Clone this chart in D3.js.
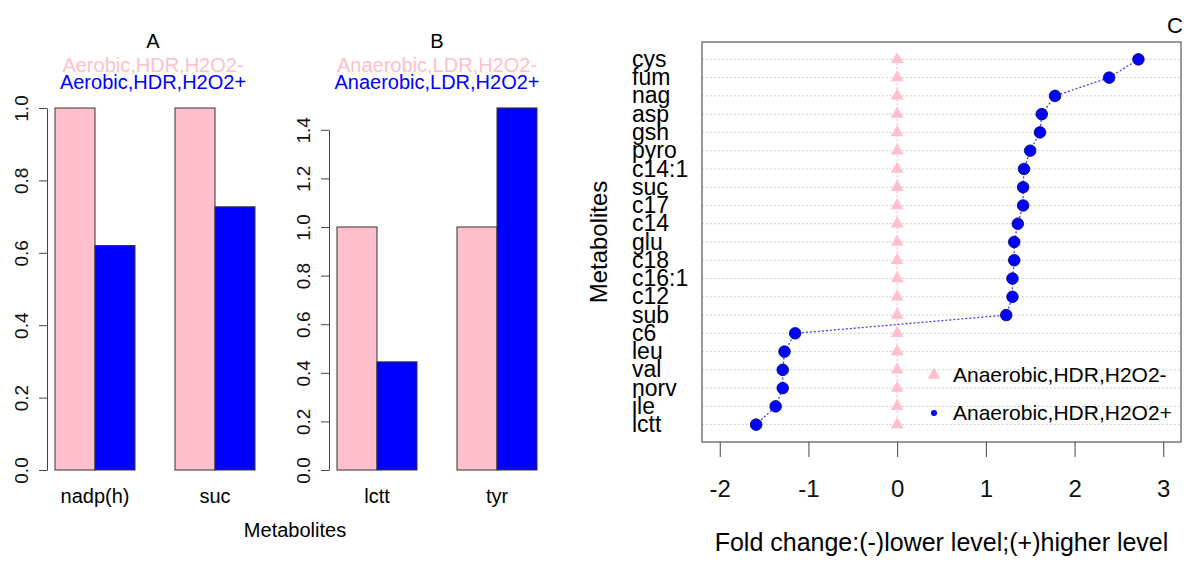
<!DOCTYPE html>
<html>
<head>
<meta charset="utf-8">
<script src="https://cdn.jsdelivr.net/npm/d3@7"></script>
<style>
  body { margin: 0; background: #fff; }
  text { font-family: "Liberation Sans", Arial, sans-serif; }
</style>
</head>
<body>
<div id="chart"></div>
<script>
// panel A / B data
const catsA = ["nadp(h)", "suc"];
const minusA = [1, 1];
const plusA = [0.62, 0.727];
const ticksA = [0, 0.2, 0.4, 0.6, 0.8, 1.0];

const catsB = ["lctt", "tyr"];
const minusB = [1, 1];
const plusB = [0.445, 1.49];
const ticksB = [0, 0.2, 0.4, 0.6, 0.8, 1.0, 1.2, 1.4];

// panel C data (top to bottom)
const metabolites = ["cys", "fum", "nag", "asp", "gsh", "pyro", "c14:1", "suc", "c17", "c14",
  "glu", "c18", "c16:1", "c12", "sub", "c6", "leu", "val", "norv", "ile", "lctt"];
const foldMinus = [0, 0, 0, 0, 0, 0, 0, 0, 0, 0, 0, 0, 0, 0, 0, 0, 0, 0, 0, 0, 0];
const foldPlus = [2.72, 2.39, 1.78, 1.63, 1.61, 1.50, 1.43, 1.42, 1.42, 1.36,
  1.32, 1.32, 1.30, 1.30, 1.23, -1.15, -1.27, -1.29, -1.29, -1.37, -1.59];
const ticksC = [-2, -1, 0, 1, 2, 3];

const pink = "#FFC0CB", blue = "#0000FF";

const svg = d3.select("#chart")
  .append("svg")
    .attr("width", 1185)
    .attr("height", 561);

svg.append("rect").attr("width", 1185).attr("height", 561).attr("fill", "#fff");

// bar panel (A and B)
function barPanel(o) {
  const x0 = d3.scaleBand()
    .domain(o.cats)
    .range(o.barRange)
    .paddingInner(1 / 3);
  const x1 = d3.scaleBand()
    .domain(["minus", "plus"])
    .range([0, x0.bandwidth()]);
  const y = d3.scaleLinear()
    .domain([0, o.yMax])
    .range([470, 470 - o.yMax * o.pxPerUnit]);

  const rows = o.cats.map((c, i) => ({ cat: c, minus: o.minus[i], plus: o.plus[i] }));

  const g = svg.append("g");
  const grp = g.selectAll("g.grp")
    .data(rows)
    .enter()
    .append("g")
      .attr("transform", d => "translate(" + x0(d.cat) + ",0)");

  grp.selectAll("rect")
    .data(d => [{ k: "minus", v: d.minus }, { k: "plus", v: d.plus }])
    .enter()
    .append("rect")
      .attr("x", d => x1(d.k))
      .attr("width", x1.bandwidth())
      .attr("y", d => y(d.v))
      .attr("height", d => y(0) - y(d.v))
      .attr("fill", d => d.k == "minus" ? pink : blue)
      .attr("stroke", "#333")
      .attr("stroke-width", 1);

  // y axis, labels parallel to axis
  const ax = g.append("g")
    .attr("transform", "translate(" + o.axisX + ",0)")
    .call(d3.axisLeft(y).tickValues(o.ticks).tickSize(8).tickSizeOuter(0).tickFormat(d3.format(".1f")));
  ax.select(".domain").attr("stroke", "#444");
  ax.selectAll(".tick line").attr("stroke", "#444");
  ax.selectAll(".tick text")
    .attr("transform", "rotate(-90)")
    .attr("x", 0)
    .attr("y", -19)
    .attr("dy", 0)
    .attr("text-anchor", "middle")
    .attr("fill", "#111")
    .style("font-size", "19px");

  // category labels
  g.selectAll("text.cat")
    .data(o.cats)
    .enter()
    .append("text")
      .attr("x", d => x0(d) + x0.bandwidth() / 2)
      .attr("y", 503)
      .attr("text-anchor", "middle")
      .style("font-size", "20px")
      .text(d => d);

  // titles
  g.append("text").attr("x", o.titleX).attr("y", 48).attr("text-anchor", "middle")
    .style("font-size", "20px").text(o.title);
  g.append("text").attr("x", o.titleX).attr("y", 72).attr("text-anchor", "middle")
    .attr("fill", pink).style("font-size", "20px").text(o.labMinus);
  g.append("text").attr("x", o.titleX).attr("y", 89).attr("text-anchor", "middle")
    .attr("fill", blue).style("font-size", "20px").text(o.labPlus);
}

barPanel({
  cats: catsA, minus: minusA, plus: plusA, ticks: ticksA, yMax: 1.0, pxPerUnit: 362,
  barRange: [55, 255], axisX: 47, titleX: 153,
  title: "A", labMinus: "Aerobic,HDR,H2O2-", labPlus: "Aerobic,HDR,H2O2+"
});
barPanel({
  cats: catsB, minus: minusB, plus: plusB, ticks: ticksB, yMax: 1.4, pxPerUnit: 243,
  barRange: [337, 537], axisX: 329, titleX: 437,
  title: "B", labMinus: "Anaerobic,LDR,H2O2-", labPlus: "Anaerobic,LDR,H2O2+"
});

svg.append("text").attr("x", 295).attr("y", 537).attr("text-anchor", "middle")
  .style("font-size", "20px").text("Metabolites");

// panel C: dot chart
const boxL = 702, boxR = 1181, boxT = 42, boxB = 442;
const x = d3.scaleLinear().domain([-2.2, 3.2]).range([boxL, boxR]);
const y = d3.scalePoint().domain(metabolites).range([boxT, boxB]).padding(0.95);

const c = svg.append("g");

// dotted grid lines
c.selectAll("line.grid")
  .data(metabolites)
  .enter()
  .append("line")
    .attr("x1", boxL).attr("x2", boxR)
    .attr("y1", d => y(d)).attr("y2", d => y(d))
    .attr("stroke", "#bdbdbd")
    .attr("stroke-width", 1)
    .attr("stroke-dasharray", "1.5,2.5");

const ptsMinus = metabolites.map((m, i) => ({ m: m, v: foldMinus[i] }));
const ptsPlus = metabolites.map((m, i) => ({ m: m, v: foldPlus[i] }));
const line = d3.line().x(d => x(d.v)).y(d => y(d.m));

c.append("path")
  .datum(ptsMinus)
  .attr("d", line)
  .attr("fill", "none")
  .attr("stroke", pink)
  .attr("stroke-width", 1.3)
  .attr("stroke-dasharray", "2,2");

c.append("path")
  .datum(ptsPlus)
  .attr("d", line)
  .attr("fill", "none")
  .attr("stroke", blue)
  .attr("stroke-opacity", 0.75)
  .attr("stroke-width", 1.3)
  .attr("stroke-dasharray", "2,2");

c.selectAll("path.tri")
  .data(ptsMinus)
  .enter()
  .append("path")
    .attr("d", d3.symbol(d3.symbolTriangle).size(72))
    .attr("transform", d => "translate(" + x(d.v) + "," + y(d.m) + ")")
    .attr("fill", pink);

c.selectAll("circle.pt")
  .data(ptsPlus)
  .enter()
  .append("circle")
    .attr("cx", d => x(d.v))
    .attr("cy", d => y(d.m))
    .attr("r", 5.8)
    .attr("fill", blue)
    .attr("stroke", "#000060")
    .attr("stroke-width", 0.8);

// box
c.append("rect")
  .attr("x", boxL).attr("y", boxT)
  .attr("width", boxR - boxL).attr("height", boxB - boxT)
  .attr("fill", "none")
  .attr("stroke", "#555")
  .attr("stroke-width", 1.2);

// x axis
const xa = c.append("g")
  .attr("transform", "translate(0," + boxB + ")")
  .call(d3.axisBottom(x).tickValues(ticksC).tickSize(15).tickSizeOuter(0).tickFormat(d => String(d)));
xa.select(".domain").remove();
xa.selectAll(".tick line").attr("stroke", "#444");
xa.selectAll(".tick text")
  .attr("y", 55)
  .attr("dy", 0)
  .attr("fill", "#111")
  .style("font-size", "24px");

// row labels, left aligned
c.selectAll("text.row")
  .data(metabolites)
  .enter()
  .append("text")
    .attr("x", 632)
    .attr("y", d => y(d))
    .attr("dy", "0.33em")
    .style("font-size", "23px")
    .text(d => d);

c.append("text")
  .attr("transform", "translate(607," + (boxT + boxB) / 2 + ")rotate(-90)")
  .attr("text-anchor", "middle")
  .style("font-size", "24px")
  .text("Metabolites");

c.append("text")
  .attr("x", (boxL + boxR) / 2)
  .attr("y", 551)
  .attr("text-anchor", "middle")
  .style("font-size", "25px")
  .text("Fold change:(-)lower level;(+)higher level");

c.append("text").attr("x", 1167).attr("y", 33).style("font-size", "22px").text("C");

// legend
const leg = c.append("g");
leg.append("path")
  .attr("d", d3.symbol(d3.symbolTriangle).size(72))
  .attr("transform", "translate(934,375)")
  .attr("fill", pink);
leg.append("circle").attr("cx", 934).attr("cy", 413).attr("r", 3).attr("fill", blue);
leg.append("text").attr("x", 953).attr("y", 375).attr("dy", "0.35em")
  .style("font-size", "21px").text("Anaerobic,HDR,H2O2-");
leg.append("text").attr("x", 953).attr("y", 413).attr("dy", "0.35em")
  .style("font-size", "21px").text("Anaerobic,HDR,H2O2+");
</script>
</body>
</html>
